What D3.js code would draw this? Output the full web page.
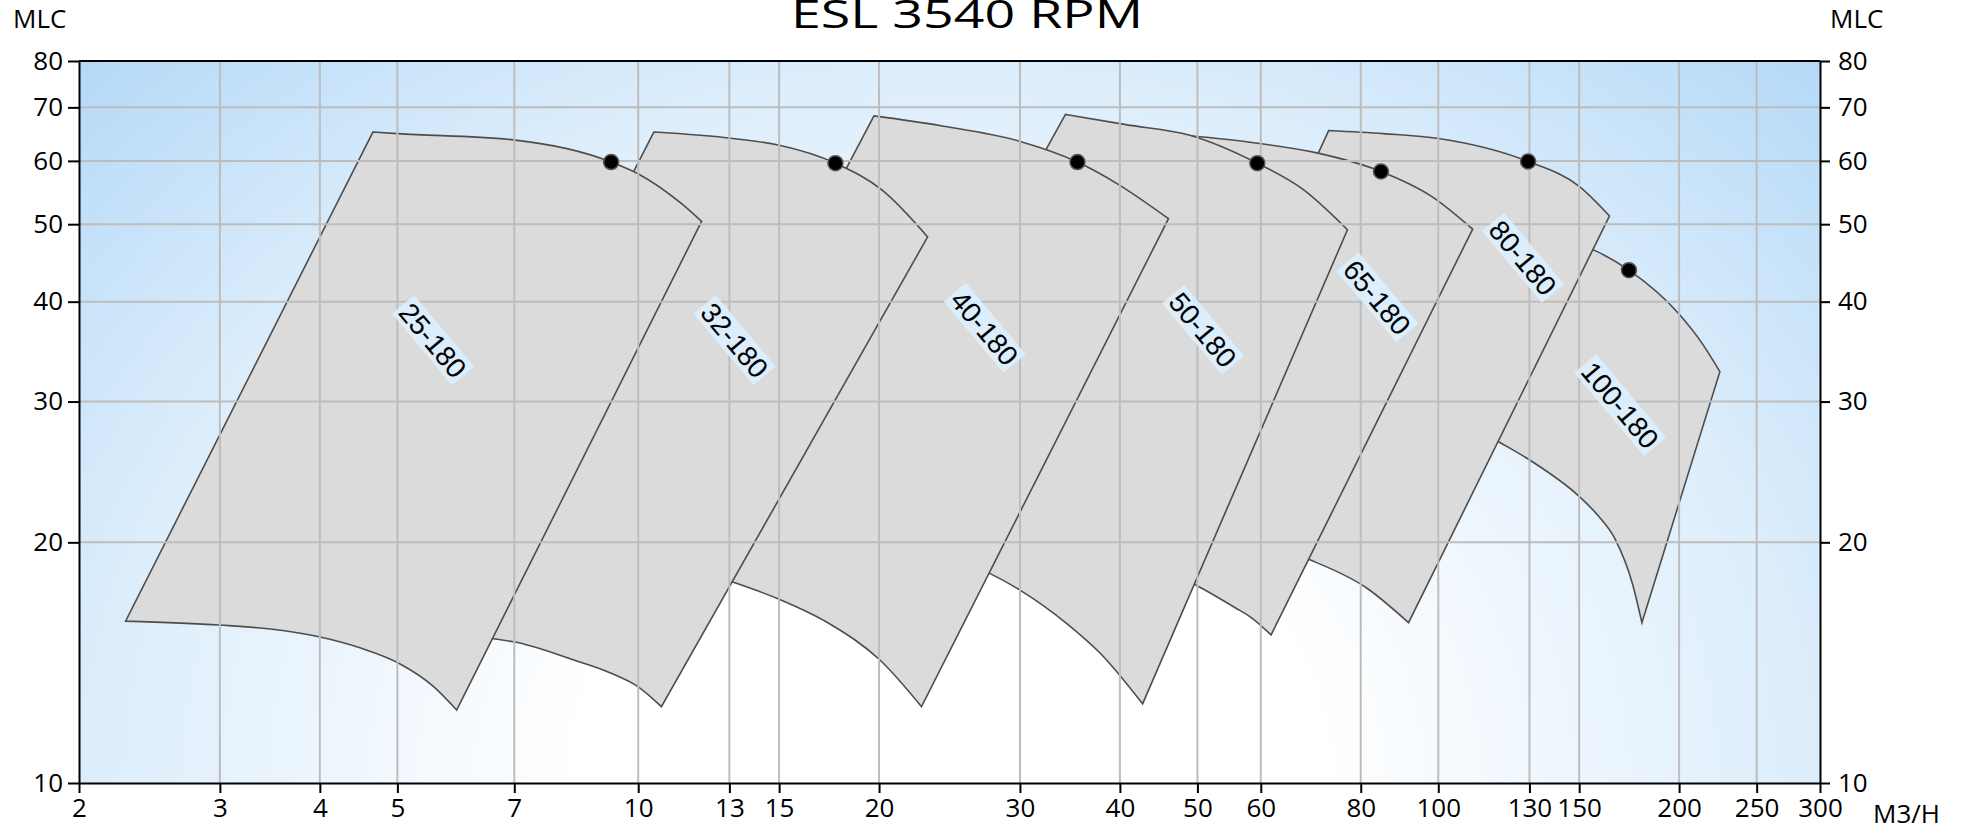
<!DOCTYPE html>
<html>
<head>
<meta charset="utf-8">
<script src="https://cdn.jsdelivr.net/npm/d3@7"></script>
<style>
  body { margin: 0; background: #fff; }
  svg { display: block; }
</style>
</head>
<body>
<div id="chart"></div>
<script>
// pump models, in drawing order from left to right
const pumpNames = ["25-180", "32-180", "40-180", "50-180", "65-180", "80-180", "100-180"];

// max impeller curves [m3/h, mlc]
const maxCurves = [
  [[4.66, 65.2], [5.0, 64.9], [7.02, 63.7], [9.25, 59.8], [10.03, 57.7], [11.3, 53.15], [12.0, 50.4]],
  [[10.46, 65.2], [13.14, 64.0], [14.97, 62.8], [17.64, 59.6], [20.2, 55.1], [23.0, 48.2]],
  [[19.71, 68.3], [23.9, 66.4], [29.96, 63.5], [35.4, 59.8], [39.9, 56.0], [46.0, 50.8]],
  [[34.2, 68.6], [40.7, 66.6], [48.9, 64.6], [59.4, 59.6], [67.7, 55.3], [77.0, 49.2]],
  [[48.97, 64.5], [58.2, 63.3], [70.5, 61.4], [84.8, 58.2], [98.3, 54.1], [110.4, 49.3]],
  [[72.97, 65.5], [85.4, 64.9], [100.1, 64.0], [129.5, 59.9], [149.9, 55.8], [163.7, 51.2]],
  [[130.2, 48.5], [157.3, 46.3], [173.1, 43.8], [199.7, 38.65], [214, 35.4], [224.9, 32.7]]
];

// min impeller curves [m3/h, mlc]
const minCurves = [
  [[2.287, 15.94], [3.0, 15.76], [3.47, 15.58], [3.99, 15.24], [4.49, 14.76], [5.02, 14.12], [5.55, 13.2], [5.93, 12.34]],
  [[5.01, 15.45], [6.98, 15.02], [8.31, 14.25], [9.2, 13.75], [9.99, 13.2], [10.69, 12.46]],
  [[10.05, 19.0], [11.61, 18.57], [13.1, 17.85], [14.95, 17.0], [17.3, 15.84], [20.05, 14.25], [22.6, 12.46]],
  [[17.62, 20.72], [21.25, 20.02], [24.54, 19.17], [27.5, 18.29], [30.0, 17.43], [34.3, 15.84], [37.8, 14.53], [42.7, 12.56]],
  [[30.9, 21.02], [37.8, 19.85], [43.6, 18.84], [49.7, 17.7], [56.4, 16.45], [58.2, 16.14], [61.8, 15.32]],
  [[43.6, 21.45], [53.4, 20.72], [61.6, 19.85], [69.0, 19.03], [81.2, 17.56], [91.8, 15.87]],
  [[106.5, 28.44], [119.1, 26.7], [130.5, 25.3], [150.2, 22.8], [158.4, 21.6], [166.3, 20.2], [174.9, 17.74], [179.7, 15.87]]
];

// best efficiency points
const bepPoints = [[9.25, 59.8], [17.64, 59.6], [35.4, 59.8], [59.4, 59.6], [84.8, 58.2], [129.5, 59.9], [173.1, 43.8]];

// where the model names sit
const labelPoints = [[5.54, 35.8], [13.2, 35.8], [27.1, 37.1], [50.8, 36.9], [83.9, 40.5], [127.6, 45.4], [168.8, 29.7]];

const xTicks = [2, 3, 4, 5, 7, 10, 13, 15, 20, 30, 40, 50, 60, 80, 100, 130, 150, 200, 250, 300];
const yTicks = [10, 20, 30, 40, 50, 60, 70, 80];

const W = 1973, H = 835;
const mLeft = 79, mRight = 1820, mTop = 61, mBottom = 783;

const svg = d3.select("#chart").append("svg")
  .attr("width", W)
  .attr("height", H);

const x = d3.scaleLog().domain([2, 300]).range([mLeft, mRight]);
const y = d3.scaleLog().domain([10, 80]).range([mBottom, mTop]);

let defs = svg.append("defs");
let grad = defs.append("radialGradient")
  .attr("id", "bg")
  .attr("cx", 0.5).attr("cy", 1).attr("r", 1.414)
  .attr("gradientTransform", "translate(0.5,1) scale(0.5,1) translate(-0.5,-1)");
grad.append("stop").attr("offset", "0").attr("stop-color", "#ffffff");
grad.append("stop").attr("offset", "0.3").attr("stop-color", "#ffffff");
grad.append("stop").attr("offset", "0.7").attr("stop-color", "#dcedfb");
grad.append("stop").attr("offset", "1").attr("stop-color", "#b4d9f7");

svg.append("rect")
  .attr("x", mLeft).attr("y", mTop)
  .attr("width", mRight - mLeft).attr("height", mBottom - mTop)
  .attr("fill", "url(#bg)");

const curve = d3.line()
  .x(d => x(d[0]))
  .y(d => y(d[1]))
  .curve(d3.curveMonotoneX);

function shapePath(topPts, lowPts) {
  let a = curve(topPts);
  let b = curve(lowPts.slice().reverse());
  return a + "L" + b.slice(1) + "Z";
}

// later models go underneath
const order = d3.range(pumpNames.length).reverse();
let shapes = svg.append("g");
order.forEach(i => {
  shapes.append("path")
    .attr("d", shapePath(maxCurves[i], minCurves[i]))
    .attr("fill", "#dbdbdb")
    .attr("stroke", "#4d4d4d")
    .attr("stroke-width", 1.6)
    .attr("stroke-linejoin", "miter");
});

// grid over shapes
let grid = svg.append("g").attr("stroke", "#bdbdbd").attr("stroke-width", 2);
grid.selectAll("line.v")
  .data(xTicks.slice(1, -1))
  .enter().append("line")
  .attr("x1", d => x(d)).attr("x2", d => x(d))
  .attr("y1", mTop).attr("y2", mBottom);
grid.selectAll("line.h")
  .data(yTicks.slice(1, -1))
  .enter().append("line")
  .attr("x1", mLeft).attr("x2", mRight)
  .attr("y1", d => y(d)).attr("y2", d => y(d));

// label boxes
let labels = svg.append("g");
let lab = labels.selectAll("g")
  .data(pumpNames)
  .enter()
  .append("g")
  .attr("transform", (d, i) => "translate(" + x(labelPoints[i][0]) + "," + y(labelPoints[i][1]) + ") rotate(50)");
lab.append("rect").attr("fill", "#dcefff").attr("fill-opacity", 0.9);
lab.append("text")
  .attr("text-anchor", "middle")
  .attr("dy", "0.36em")
  .style("font-family", "'Liberation Sans', Arial, sans-serif")
  .style("font-size", "28px")
  .attr("fill", "#000")
  .text(d => d);
lab.each(function () {
  let g = d3.select(this);
  let len = g.select("text").node().getComputedTextLength();
  g.select("rect")
    .attr("x", -len / 2 - 3).attr("y", -14.5)
    .attr("width", len + 6).attr("height", 29);
});

svg.append("g").selectAll("circle")
  .data(bepPoints)
  .enter().append("circle")
  .attr("cx", d => x(d[0]))
  .attr("cy", d => y(d[1]))
  .attr("r", 7.5)
  .attr("fill", "#000")
  .attr("stroke", "#555")
  .attr("stroke-width", 1.5);

const tickFont = "'Open Sans', 'Noto Sans', sans-serif";

function styleAxis(g) {
  g.selectAll("path.domain").attr("stroke", "#000").attr("stroke-width", 2);
  g.selectAll(".tick line").attr("stroke", "#000").attr("stroke-width", 2);
  g.selectAll(".tick text")
    .style("font-family", tickFont)
    .style("font-size", "26px")
    .attr("fill", "#000");
}

svg.append("g")
  .attr("transform", "translate(0," + mBottom + ")")
  .call(d3.axisBottom(x).tickValues(xTicks).tickFormat(d3.format("d")).tickSize(10).tickSizeOuter(0).tickPadding(6))
  .call(styleAxis);

svg.append("g")
  .attr("transform", "translate(" + mLeft + ",0)")
  .call(d3.axisLeft(y).tickValues(yTicks).tickFormat(d3.format("d")).tickSize(11).tickSizeOuter(0).tickPadding(5))
  .call(styleAxis);

svg.append("g")
  .attr("transform", "translate(" + mRight + ",0)")
  .call(d3.axisRight(y).tickValues(yTicks).tickFormat(d3.format("d")).tickSize(10).tickSizeOuter(0).tickPadding(8))
  .call(styleAxis);

svg.append("line")
  .attr("x1", mLeft).attr("x2", mRight)
  .attr("y1", mTop).attr("y2", mTop)
  .attr("stroke", "#000").attr("stroke-width", 2);

svg.append("text")
  .attr("x", 13).attr("y", 28)
  .style("font-family", tickFont).style("font-size", "26px")
  .text("MLC");
svg.append("text")
  .attr("x", 1830).attr("y", 28)
  .style("font-family", tickFont).style("font-size", "26px")
  .text("MLC");
svg.append("text")
  .attr("x", 1873).attr("y", 823)
  .style("font-family", tickFont).style("font-size", "26px")
  .text("M3/H");

// title is clipped at the top, as in the source picture
svg.append("text")
  .attr("x", 967).attr("y", 28)
  .attr("text-anchor", "middle")
  .attr("textLength", 352)
  .attr("lengthAdjust", "spacingAndGlyphs")
  .style("font-family", tickFont).style("font-size", "38px")
  .text("ESL 3540 RPM");
</script>
</body>
</html>
